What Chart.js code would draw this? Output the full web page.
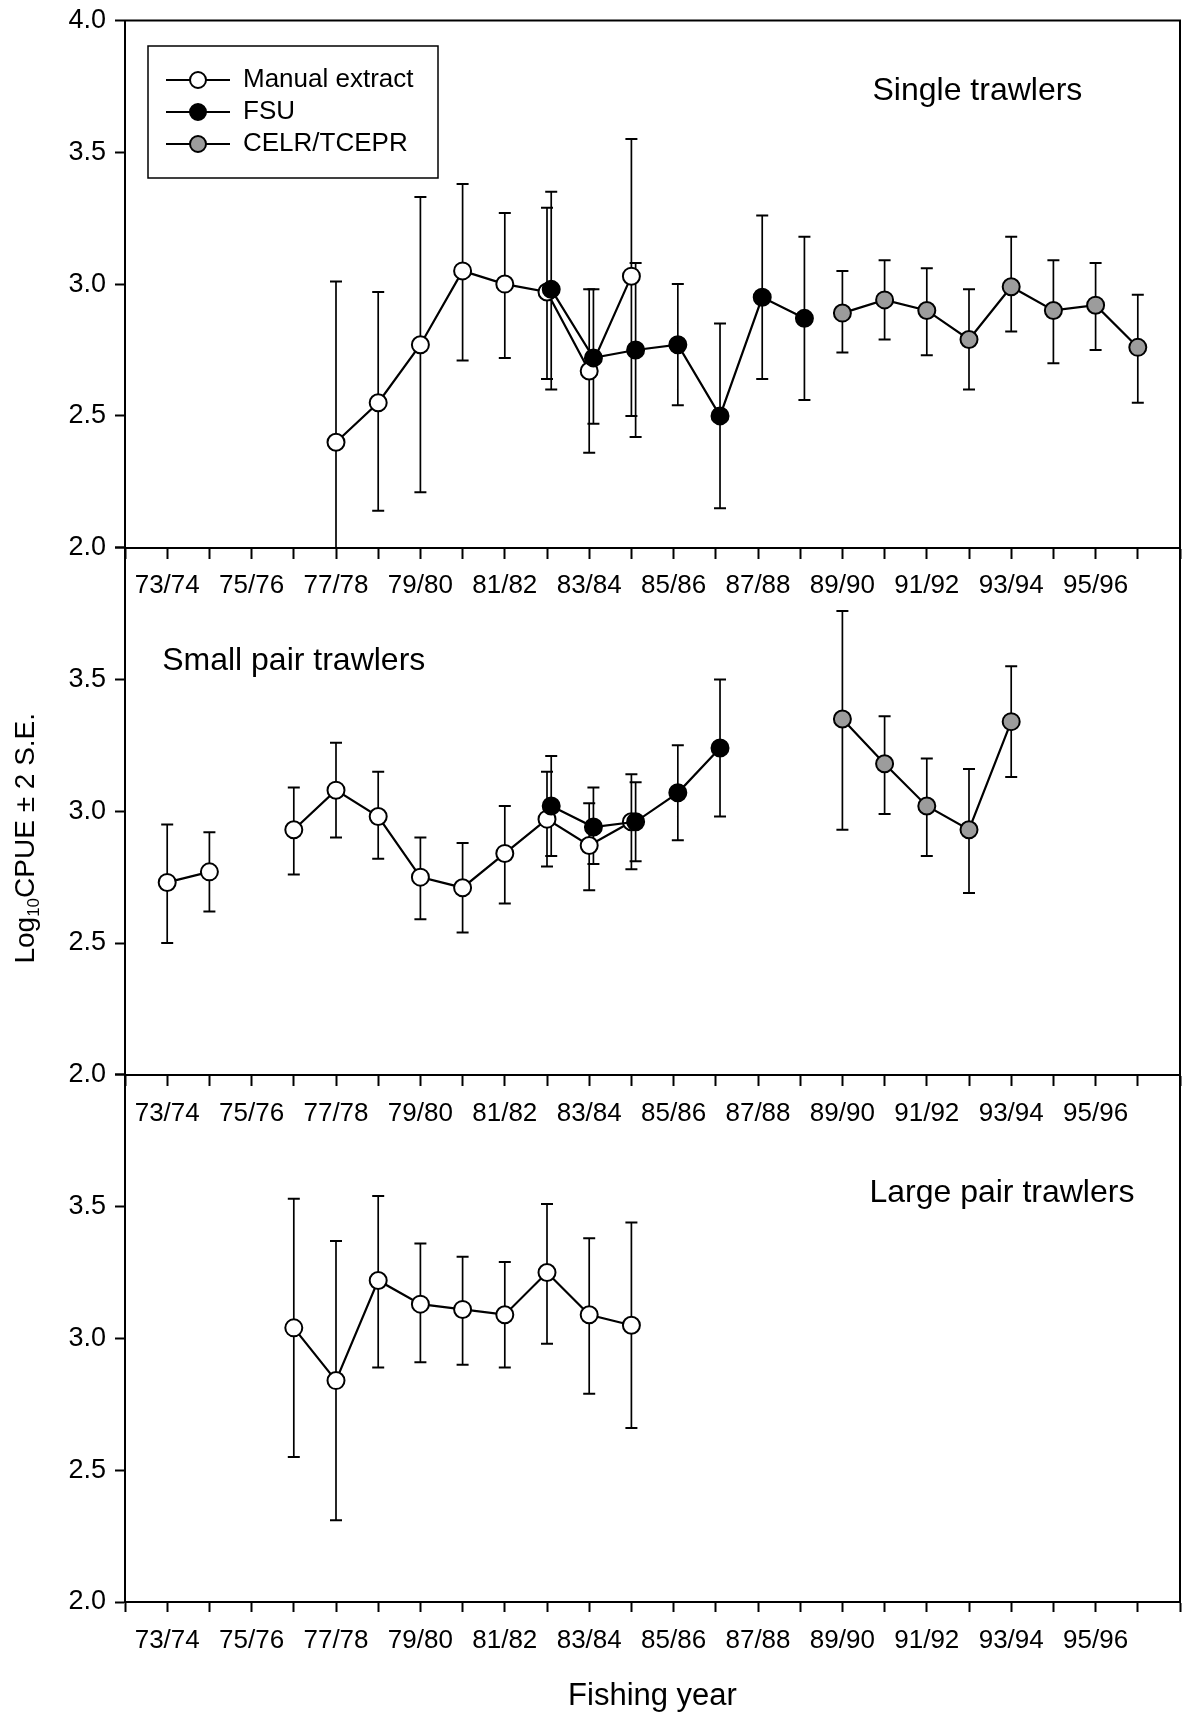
<!DOCTYPE html>
<html>
<head>
<meta charset="utf-8">
<script src="https://cdn.jsdelivr.net/npm/chart.js@4.4.1/dist/chart.umd.min.js"></script>
<style>
  html, body { margin: 0; padding: 0; background: #fff; }
  #wrap { width: 1193px; height: 1716px; position: relative; }
  canvas { display: block; }
</style>
</head>
<body>
<div id="wrap"><canvas id="chart" width="1193" height="1716"></canvas></div>
<script>
// ---------------- DATA ----------------
const years = ['73/74','74/75','75/76','76/77','77/78','78/79','79/80','80/81','81/82','82/83','83/84','84/85',
               '85/86','86/87','87/88','88/89','89/90','90/91','91/92','92/93','93/94','94/95','95/96','96/97'];
const tickLabels = ['73/74','75/76','77/78','79/80','81/82','83/84','85/86','87/88','89/90','91/92','93/94','95/96'];
const yTicks = [2.0, 2.5, 3.0, 3.5, 4.0];
const seriesNames = ['Manual extract', 'FSU', 'CELR/TCEPR'];

// Single trawlers
const singleManualYears = ['77/78','78/79','79/80','80/81','81/82','82/83','83/84','84/85'];
const singleManualMean  = [2.40, 2.55, 2.77, 3.05, 3.00, 2.97, 2.67, 3.03];
const singleManualLow   = [1.79, 2.14, 2.21, 2.71, 2.72, 2.64, 2.36, 2.50];
const singleManualHigh  = [3.01, 2.97, 3.33, 3.38, 3.27, 3.29, 2.98, 3.55];

const singleFsuYears = ['82/83','83/84','84/85','85/86','86/87','87/88','88/89'];
const singleFsuMean  = [2.98, 2.72, 2.75, 2.77, 2.50, 2.95, 2.87];
const singleFsuLow   = [2.60, 2.47, 2.42, 2.54, 2.15, 2.64, 2.56];
const singleFsuHigh  = [3.35, 2.98, 3.08, 3.00, 2.85, 3.26, 3.18];

const singleCelrYears = ['89/90','90/91','91/92','92/93','93/94','94/95','95/96','96/97'];
const singleCelrMean  = [2.89, 2.94, 2.90, 2.79, 2.99, 2.90, 2.92, 2.76];
const singleCelrLow   = [2.74, 2.79, 2.73, 2.60, 2.82, 2.70, 2.75, 2.55];
const singleCelrHigh  = [3.05, 3.09, 3.06, 2.98, 3.18, 3.09, 3.08, 2.96];

// Small pair trawlers
const smallManualYears = ['73/74','74/75','76/77','77/78','78/79','79/80','80/81','81/82','82/83','83/84','84/85'];
const smallManualMean  = [2.73, 2.77, 2.93, 3.08, 2.98, 2.75, 2.71, 2.84, 2.97, 2.87, 2.96];
const smallManualLow   = [2.50, 2.62, 2.76, 2.90, 2.82, 2.59, 2.54, 2.65, 2.79, 2.70, 2.78];
const smallManualHigh  = [2.95, 2.92, 3.09, 3.26, 3.15, 2.90, 2.88, 3.02, 3.15, 3.03, 3.14];

const smallFsuYears = ['82/83','83/84','84/85','85/86','86/87'];
const smallFsuMean  = [3.02, 2.94, 2.96, 3.07, 3.24];
const smallFsuLow   = [2.83, 2.80, 2.81, 2.89, 2.98];
const smallFsuHigh  = [3.21, 3.09, 3.11, 3.25, 3.50];

const smallCelrYears = ['89/90','90/91','91/92','92/93','93/94'];
const smallCelrMean  = [3.35, 3.18, 3.02, 2.93, 3.34];
const smallCelrLow   = [2.93, 2.99, 2.83, 2.69, 3.13];
const smallCelrHigh  = [3.76, 3.36, 3.20, 3.16, 3.55];

// Large pair trawlers
const largeManualYears = ['76/77','77/78','78/79','79/80','80/81','81/82','82/83','83/84','84/85'];
const largeManualMean  = [3.04, 2.84, 3.22, 3.13, 3.11, 3.09, 3.25, 3.09, 3.05];
const largeManualLow   = [2.55, 2.31, 2.89, 2.91, 2.90, 2.89, 2.98, 2.79, 2.66];
const largeManualHigh  = [3.53, 3.37, 3.54, 3.36, 3.31, 3.29, 3.51, 3.38, 3.44];

// ---------------- STYLE / LAYOUT ----------------
const FONT = "'Liberation Sans', Arial, Helvetica, sans-serif";
Chart.defaults.font.family = FONT;
Chart.defaults.color = '#000';

const styles = {
  manual: { fill: '#ffffff', shift: 0,   order: 3 },
  fsu:    { fill: '#000000', shift: 0.1, order: 1 },
  celr:   { fill: '#9c9c9c', shift: 0,   order: 2 }
};

const panels = [
  { x: 'x1', y: 'y1', series: [
    { kind: 'manual', yrs: singleManualYears, mean: singleManualMean, low: singleManualLow, high: singleManualHigh },
    { kind: 'fsu',    yrs: singleFsuYears,    mean: singleFsuMean,    low: singleFsuLow,    high: singleFsuHigh },
    { kind: 'celr',   yrs: singleCelrYears,   mean: singleCelrMean,   low: singleCelrLow,   high: singleCelrHigh } ] },
  { x: 'x2', y: 'y2', series: [
    { kind: 'manual', yrs: smallManualYears, mean: smallManualMean, low: smallManualLow, high: smallManualHigh },
    { kind: 'fsu',    yrs: smallFsuYears,    mean: smallFsuMean,    low: smallFsuLow,    high: smallFsuHigh },
    { kind: 'celr',   yrs: smallCelrYears,   mean: smallCelrMean,   low: smallCelrLow,   high: smallCelrHigh } ] },
  { x: 'x3', y: 'y3', series: [
    { kind: 'manual', yrs: largeManualYears, mean: largeManualMean, low: largeManualLow, high: largeManualHigh } ] }
];

const panelLabels = [
  { text: 'Single trawlers',     xAxis: 'x1', yAxis: 'y1', x: 19.2,  y: 3.732, align: 'center' },
  { text: 'Small pair trawlers', xAxis: 'x2', yAxis: 'y2', x: -0.12, y: 3.571, align: 'left' },
  { text: 'Large pair trawlers', xAxis: 'x3', yAxis: 'y3', x: 19.78, y: 3.552, align: 'center' }
];

// ---------------- DATASETS ----------------
const datasets = [];
panels.forEach(p => {
  p.series.forEach(s => {
    const st = styles[s.kind];
    const lineData = years.map((yr, i) => {
      const k = s.yrs.indexOf(yr);
      return { x: i + st.shift, y: k >= 0 ? s.mean[k] : null };
    });
    const errData = [];
    s.yrs.forEach((yr, k) => {
      const xi = years.indexOf(yr) + st.shift;
      errData.push({ x: xi, y: s.low[k] }, { x: xi, y: s.high[k] }, { x: xi, y: null });
    });
    datasets.push({
      label: 'err', data: errData, xAxisID: p.x, yAxisID: p.y, order: 10 + st.order,
      borderColor: '#000', borderWidth: 1.7, spanGaps: false,
      pointStyle: 'line', pointRadius: 6, pointBorderWidth: 2, pointBorderColor: '#000',
      pointBackgroundColor: '#000', pointHoverRadius: 6
    });
    datasets.push({
      label: s.kind, data: lineData, xAxisID: p.x, yAxisID: p.y, order: st.order,
      borderColor: '#000', borderWidth: 2.2, spanGaps: false, tension: 0,
      pointStyle: 'circle', pointRadius: 8.5, pointBorderWidth: 2,
      pointBorderColor: '#000', pointBackgroundColor: st.fill, pointHoverRadius: 8.5
    });
  });
});

// ---------------- LEGEND ICONS ----------------
function makeIcon(fill) {
  const c = document.createElement('canvas');
  c.width = 64; c.height = 22;
  const g = c.getContext('2d');
  g.strokeStyle = '#000'; g.lineWidth = 2;
  g.beginPath(); g.moveTo(0, 11); g.lineTo(64, 11); g.stroke();
  g.beginPath(); g.arc(32, 11, 8, 0, Math.PI * 2);
  g.fillStyle = fill; g.fill(); g.stroke();
  return c;
}
const legendIcons = [makeIcon(styles.manual.fill), makeIcon(styles.fsu.fill), makeIcon(styles.celr.fill)];

// ---------------- SCALES ----------------
function xTick(v) {
  const i = Math.round(v);
  if (Math.abs(v - i) > 1e-6 || i < 0 || i >= years.length) return '';
  return tickLabels.includes(years[i]) ? years[i] : '';
}
function makeX(position, extra) {
  return Object.assign({
    type: 'linear', position: position, min: -1, max: years.length,
    grid: { drawOnChartArea: false, drawTicks: true, tickLength: 10, tickWidth: 2, tickColor: '#000', color: '#000' },
    border: { display: true, color: '#000', width: 2 },
    ticks: { stepSize: 1, autoSkip: false, maxRotation: 0, minRotation: 0, padding: 13,
             font: { size: 26 }, color: '#000', callback: xTick }
  }, extra || {});
}
function makeY(weight, showTop) {
  return {
    type: 'linear', position: 'left', stack: 'panels', stackWeight: 1, weight: weight,
    min: yTicks[0], max: yTicks[yTicks.length - 1],
    afterBuildTicks: s => { s.ticks = yTicks.map(v => ({ value: v })); },
    afterFit: s => { s.width = 125; s.paddingTop = 0; s.paddingBottom = 0; },
    grid: { drawOnChartArea: false, drawTicks: true, tickLength: 10, tickWidth: 2, tickColor: '#000', color: '#000' },
    border: { display: true, color: '#000', width: 2 },
    ticks: { padding: 9, font: { size: 27 }, color: '#000',
             callback: v => (!showTop && v === yTicks[yTicks.length - 1]) ? '' : v.toFixed(1) }
  };
}

// ---------------- PLUGINS ----------------
const framePlugin = {
  id: 'frame',
  afterLayout(chart) {
    const lg = chart.legend, a = chart.chartArea;
    if (lg) { lg.left = a.left + 35; lg.top = a.top + 40.5; lg.right = lg.left + 300; lg.bottom = lg.top + 150; }
  },
  afterDraw(chart) {
    const ctx = chart.ctx, a = chart.chartArea;
    ctx.save();
    ctx.strokeStyle = '#000'; ctx.lineWidth = 2;
    ctx.strokeRect(a.left, a.top, a.right - a.left, a.bottom - a.top);
    const lg = chart.legend;
    ctx.lineWidth = 1.5;
    ctx.strokeRect(lg.left - 12, lg.top - 15, 290, 132);
    ctx.fillStyle = '#000'; ctx.textBaseline = 'middle';
    ctx.font = '32px ' + FONT;
    panelLabels.forEach(l => {
      ctx.textAlign = l.align;
      ctx.fillText(l.text, chart.scales[l.xAxis].getPixelForValue(l.x), chart.scales[l.yAxis].getPixelForValue(l.y));
    });
    // y-axis title with subscript
    const ys = chart.scales.y2;
    const cx = 24, cy = (ys.top + ys.bottom) / 2 + 27;
    const F = 28, f = 17;
    const parts = [ { t: 'Log', s: F, dy: 0 }, { t: '10', s: f, dy: 5 }, { t: 'CPUE \u00b1 2 S.E.', s: F, dy: 0 } ];
    let total = 0;
    parts.forEach(p => { ctx.font = p.s + 'px ' + FONT; p.w = ctx.measureText(p.t).width; total += p.w; });
    ctx.translate(cx, cy); ctx.rotate(-Math.PI / 2);
    ctx.textAlign = 'left'; ctx.textBaseline = 'alphabetic';
    let x = -total / 2;
    parts.forEach(p => { ctx.font = p.s + 'px ' + FONT; ctx.fillText(p.t, x, F * 0.36 + p.dy); x += p.w; });
    ctx.restore();
  }
};

new Chart(document.getElementById('chart'), {
  type: 'line',
  data: { datasets: datasets },
  options: {
    responsive: false, animation: false, events: [],
    layout: { padding: { top: 20.5, right: 3, left: 0, bottom: 0 } },
    scales: {
      y1: makeY(3, true),
      y2: makeY(2, false),
      y3: makeY(1, false),
      x1: makeX({ y1: 2 }),
      x2: makeX({ y2: 2 }),
      x3: makeX('bottom', {
        afterFit: s => { s.height = 114; },
        title: { display: true, text: 'Fishing year', font: { size: 31 }, color: '#000', padding: { top: 0, bottom: 1 } }
      })
    },
    plugins: {
      title: { display: false },
      tooltip: { enabled: false },
      legend: {
        display: true, position: 'chartArea', align: 'start',
        labels: {
          usePointStyle: true, pointStyleWidth: 64, padding: 6, color: '#000',
          font: { size: 26 },
          generateLabels: () => seriesNames.map((n, i) => ({
            text: n, pointStyle: legendIcons[i], fillStyle: 'transparent', strokeStyle: 'transparent',
            lineWidth: 0, hidden: false, fontColor: '#000', datasetIndex: i
          }))
        }
      }
    }
  },
  plugins: [framePlugin]
});
</script>
</body>
</html>
